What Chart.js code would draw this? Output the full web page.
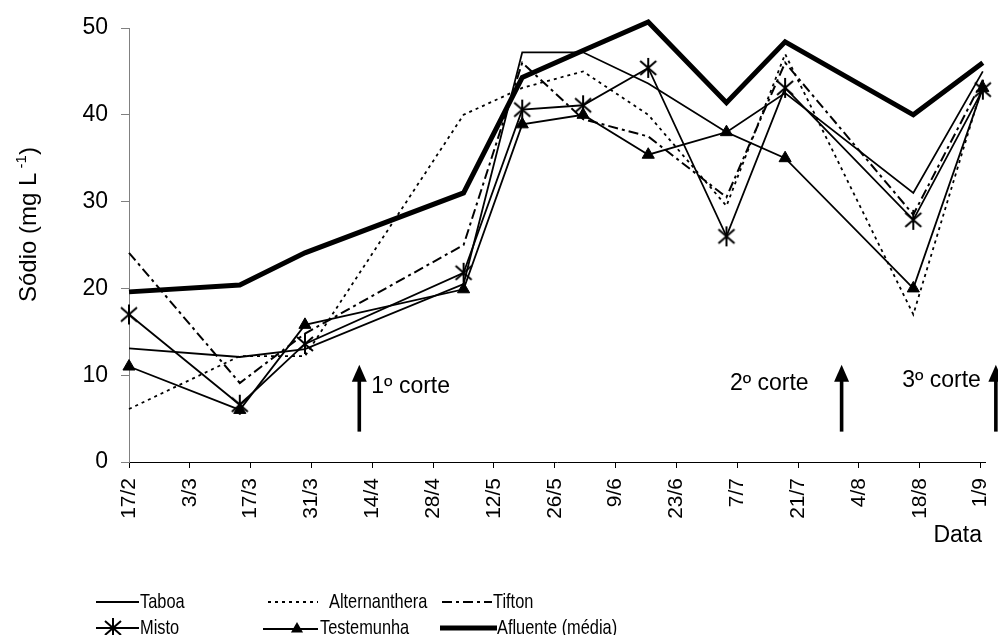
<!DOCTYPE html>
<html>
<head>
<meta charset="utf-8">
<script src="https://cdn.jsdelivr.net/npm/chart.js@4.4.0/dist/chart.umd.min.js"></script>
<style>
  html, body { margin: 0; padding: 0; background: #fff; }
</style>
</head>
<body>
<canvas id="chartSodio" width="998" height="635"></canvas>
<script>
// dias desde 17/2 de cada coleta
const diasColeta = [0, 25.5, 40.5, 77, 90.5, 104.5, 119.5, 137.5, 151, 180.5, 196.5];
const diasTicks = [0, 14, 28, 42, 56, 70, 84, 98, 112, 126, 140, 154, 168, 182, 196];
const rotulosTicks = ["17/2", "3/3", "17/3", "31/3", "14/4", "28/4", "12/5", "26/5", "9/6", "23/6", "7/7", "21/7", "4/8", "18/8", "1/9"];

const taboa        = [13.1, 12.1, 13.0, 20.5, 47.2, 47.2, 43.6, 38.0, 42.5, 31.0, 45.0];
const alternanthera = [6.1, 12.2, 12.2, 40.0, 43.1, 45.0, 40.0, 29.5, 47.0, 17.0, 43.5];
const tifton       = [24.1, 9.1, 14.8, 25.0, 46.0, 39.5, 37.5, 30.5, 46.0, 28.5, 44.0];
const misto        = [17.0, 6.6, 13.6, 21.8, 40.6, 41.1, 45.4, 26.0, 43.1, 27.9, 42.9];
const testemunha   = [11.0, 6.0, 15.8, 19.9, 38.9, 40.0, 35.4, 38.0, 35.0, 20.0, 43.1];
const afluente     = [19.6, 20.4, 24.1, 31.0, 44.3, 47.4, 50.7, 41.4, 48.4, 40.0, 46.0];

const diasCorte = [53, 164, 199.5];
const rotulosCorte = ["1º corte", "2º corte", "3º corte"];

const FONTE = '"Liberation Sans", Arial, sans-serif';

function pontos(valores) {
  return valores.map((v, i) => ({ x: diasColeta[i], y: v }));
}

// marcador asterisco (estilo Excel)
const estrela = document.createElement("canvas");
estrela.width = 22; estrela.height = 22;
(function () {
  const c = estrela.getContext("2d");
  c.strokeStyle = "#000";
  c.lineWidth = 2;
  c.beginPath();
  c.moveTo(11, 1); c.lineTo(11, 21);
  c.moveTo(3, 4); c.lineTo(19, 18);
  c.moveTo(19, 4); c.lineTo(3, 18);
  c.stroke();
})();

function serie(label, valores, extra) {
  return Object.assign({
    label: label,
    data: pontos(valores),
    borderColor: "#000",
    backgroundColor: "#000",
    borderWidth: 1.8,
    pointRadius: 0,
    tension: 0,
    fill: false,
    clip: false
  }, extra);
}

const extras = {
  id: "extras",
  afterDraw(chart) {
    const ctx = chart.ctx;
    const xs = chart.scales.x;
    const ys = chart.scales.y;
    ctx.save();
    ctx.fillStyle = "#000";
    ctx.strokeStyle = "#000";

    // titulo do eixo y com sobrescrito
    ctx.save();
    ctx.translate(36, 302);
    ctx.rotate(-Math.PI / 2);
    ctx.textAlign = "left";
    ctx.textBaseline = "alphabetic";
    ctx.font = "24px " + FONTE;
    let t = "Sódio (mg L";
    ctx.fillText(t, 0, 0);
    let w = ctx.measureText(t).width;
    ctx.font = "15px " + FONTE;
    ctx.fillText(" -1", w, -10);
    w += ctx.measureText(" -1").width;
    ctx.font = "24px " + FONTE;
    ctx.fillText(")", w, 0);
    ctx.restore();

    // titulo do eixo x
    ctx.font = "23px " + FONTE;
    ctx.textAlign = "right";
    ctx.fillText("Data", 982, 542);

    // setas dos cortes
    const yBase = ys.getPixelForValue(3.5);
    const yTopo = ys.getPixelForValue(11.2);
    diasCorte.forEach((d, i) => {
      const x = xs.getPixelForValue(d);
      ctx.fillRect(x - 1.8, yTopo + 14, 3.6, yBase - yTopo - 14);
      ctx.beginPath();
      ctx.moveTo(x, yTopo);
      ctx.lineTo(x - 7.5, yTopo + 17);
      ctx.lineTo(x + 7.5, yTopo + 17);
      ctx.closePath();
      ctx.fill();
      ctx.font = "23px " + FONTE;
      if (i === 0) {
        ctx.textAlign = "left";
        ctx.fillText(rotulosCorte[i], x + 12, 392.5);
      } else if (i === 1) {
        ctx.textAlign = "right";
        ctx.fillText(rotulosCorte[i], x - 33, 389.5);
      } else {
        ctx.textAlign = "right";
        ctx.fillText(rotulosCorte[i], x - 15, 387);
      }
    });

    // legenda
    const leg = [
      { ds: 0, x0: 96, x1: 139, tx: 140, y: 602, by: 608 },
      { ds: 1, x0: 268, x1: 318, tx: 329, y: 602, by: 608 },
      { ds: 2, x0: 442, x1: 492, tx: 493, y: 602, by: 608 },
      { ds: 3, x0: 96, x1: 139, tx: 140, y: 628, by: 634, mx: 113 },
      { ds: 4, x0: 263, x1: 318, tx: 320, y: 629, by: 634, mx: 297 },
      { ds: 5, x0: 440, x1: 497, tx: 497, y: 628, by: 634 }
    ];
    leg.forEach(it => {
      const ds = chart.data.datasets[it.ds];
      ctx.save();
      ctx.lineWidth = ds.borderWidth;
      ctx.setLineDash(ds.borderDash || []);
      ctx.beginPath();
      ctx.moveTo(it.x0, it.y);
      ctx.lineTo(it.x1, it.y);
      ctx.stroke();
      ctx.restore();
      const xm = it.mx || (it.x0 + it.x1) / 2;
      if (ds.pointStyle === estrela) {
        ctx.drawImage(estrela, xm - 11, it.y - 11);
      } else if (ds.pointStyle === "triangle") {
        const r = ds.pointRadius;
        ctx.beginPath();
        ctx.moveTo(xm, it.y - r);
        ctx.lineTo(xm + r * 0.866, it.y + r / 2);
        ctx.lineTo(xm - r * 0.866, it.y + r / 2);
        ctx.closePath();
        ctx.fill();
      }
      // texto estreito (tipo Arial Narrow)
      ctx.save();
      ctx.translate(it.tx, it.by);
      ctx.scale(0.78, 1);
      ctx.font = "21px " + FONTE;
      ctx.textAlign = "left";
      ctx.fillText(ds.label, 0, 0);
      ctx.restore();
    });
    ctx.restore();
  }
};

const ctxSodio = document.getElementById("chartSodio").getContext("2d");
const chartSodio = new Chart(ctxSodio, {
  type: "line",
  data: {
    datasets: [
      serie("Taboa", taboa),
      serie("Alternanthera", alternanthera, { borderDash: [3, 4] }),
      serie("Tifton", tifton, { borderDash: [10, 4, 3, 4], borderWidth: 2 }),
      serie("Misto", misto, { pointStyle: estrela, pointRadius: 10 }),
      serie("Testemunha", testemunha, { pointStyle: "triangle", pointRadius: 7, pointBorderWidth: 1 }),
      serie("Afluente (média)", afluente, { borderWidth: 5 })
    ]
  },
  options: {
    responsive: false,
    animation: false,
    devicePixelRatio: 1,
    layout: { padding: { left: 0, right: 13, top: 28, bottom: 98 } },
    plugins: {
      legend: { display: false },
      tooltip: { enabled: false }
    },
    scales: {
      x: {
        type: "linear",
        min: 0,
        max: 197,
        afterFit(scale) {
          scale.height = 75;
          scale.paddingLeft = 0;
          scale.paddingRight = 0;
        },
        afterBuildTicks(scale) { scale.ticks = diasTicks.map(v => ({ value: v })); },
        grid: { drawOnChartArea: false, color: "#000", tickLength: 6 },
        border: { color: "#000", width: 1 },
        ticks: {
          autoSkip: false,
          maxRotation: 90,
          minRotation: 90,
          padding: 10,
          color: "#000",
          font: { family: FONTE, size: 21 },
          callback: v => rotulosTicks[diasTicks.indexOf(v)]
        }
      },
      y: {
        min: 0,
        max: 50,
        afterFit(scale) { scale.width = 129; },
        grid: { drawOnChartArea: false, color: "#808080", tickLength: 8 },
        border: { color: "#808080", width: 1 },
        ticks: {
          stepSize: 10,
          padding: 13,
          color: "#000",
          font: { family: FONTE, size: 23 }
        }
      }
    }
  },
  plugins: [extras]
});
</script>
</body>
</html>
